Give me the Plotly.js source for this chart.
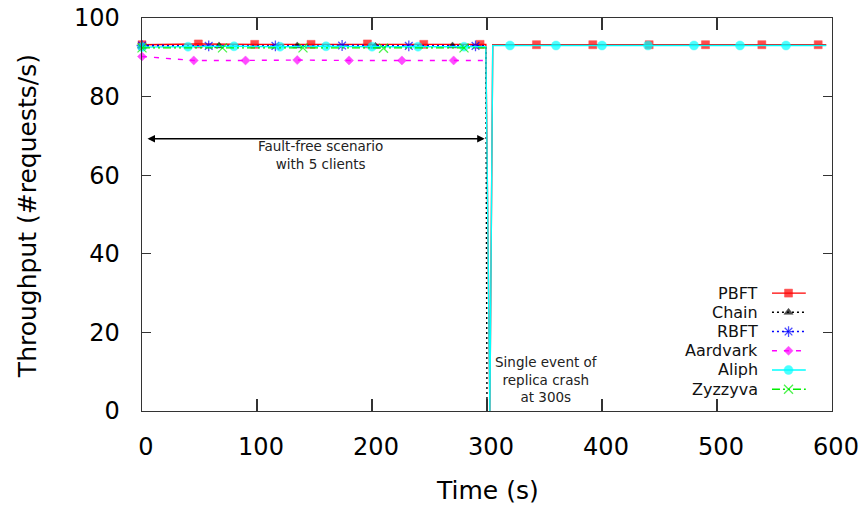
<!DOCTYPE html>
<html>
<head>
<meta charset="utf-8">
<script src="https://cdn.plot.ly/plotly-3.0.1.min.js"></script>
<style>html,body{margin:0;padding:0;background:#fff;}#chart{width:861px;height:505px;}</style>
</head>
<body>
<div id="chart"></div>
<script>
// ---- data ----
const seriesNames = ["PBFT", "Chain", "RBFT", "Aardvark", "Aliph", "Zyzzyva"];

const pbftT = [0, 49, 98, 147, 196, 245, 294, 299, 302.5, 305, 343, 392, 441, 490, 539, 588, 595];
const pbftV = [93.2, 93.4, 93.3, 93.3, 93.4, 93.3, 93.3, 93.3, 0, 93.2, 93.2, 93.2, 93.2, 93.2, 93.2, 93.2, 93.2];
const pbftMarks = [0, 1, 2, 3, 4, 5, 6, 10, 11, 12, 13, 14, 15];

const chainT = [0, 67, 135, 203, 270, 299, 300];
const chainV = [92.9, 92.9, 92.9, 92.8, 92.9, 92.9, 0];
const chainMarks = [0, 1, 2, 3, 4];

const rbftT = [0, 58, 116, 174, 232, 290, 299];
const rbftV = [93.0, 92.9, 92.9, 93.0, 92.9, 92.9, 92.9];
const rbftMarks = [0, 1, 2, 3, 4, 5];

const aardvarkT = [0, 45, 90, 135, 180, 226, 271, 298];
const aardvarkV = [90.2, 89.2, 89.2, 89.3, 89.2, 89.2, 89.2, 89.2];
const aardvarkMarks = [0, 1, 2, 3, 4, 5, 6];

const aliphT = [0, 40, 80, 120, 160, 200, 240, 280, 299, 302.5, 305, 320, 360, 400, 440, 480, 520, 560, 595];
const aliphV = [92.6, 92.7, 92.8, 92.7, 92.8, 92.7, 92.7, 92.7, 92.7, 0, 93.0, 93.0, 93.0, 93.0, 93.0, 93.0, 93.0, 93.0, 93.0];
const aliphMarks = [0, 1, 2, 3, 4, 5, 6, 7, 11, 12, 13, 14, 15, 16, 17];

const zyzzyvaT = [0, 70, 140, 210, 280, 299];
const zyzzyvaV = [92.4, 92.4, 92.4, 92.3, 92.4, 92.4];
const zyzzyvaMarks = [0, 1, 2, 3, 4];

const xTicks = [0, 100, 200, 300, 400, 500, 600];
const yTicks = [0, 20, 40, 60, 80, 100];

// ---- styles ----
const styles = [
  {color: "#ff0000", dash: "solid", symbol: "square", size: 8, lw: 0.5},
  {color: "#000000", dash: "2px,3px", symbol: "triangle-up", size: 8, lw: 0.5},
  {color: "#0000ff", dash: "2px,3px", symbol: "asterisk-open", size: 9, lw: 1.3},
  {color: "#ff00ff", dash: "5px,7px", symbol: "diamond", size: 7, lw: 0.5},
  {color: "#00ffff", dash: "solid", symbol: "circle", size: 9, lw: 0.5},
  {color: "#00ee00", dash: "8px,3px,2px,3px,2px,3px", symbol: "x-thin-open", size: 9, lw: 1.3}
];
const seriesData = [
  [pbftT, pbftV, pbftMarks],
  [chainT, chainV, chainMarks],
  [rbftT, rbftV, rbftMarks],
  [aardvarkT, aardvarkV, aardvarkMarks],
  [aliphT, aliphV, aliphMarks],
  [zyzzyvaT, zyzzyvaV, zyzzyvaMarks]
];

const traces = [];
seriesData.forEach((d, i) => {
  const s = styles[i];
  const sizes = d[0].map((_, k) => d[2].includes(k) ? s.size : 0);
  traces.push({
    x: d[0], y: d[1], type: "scatter", mode: "lines+markers", name: seriesNames[i],
    showlegend: false, cliponaxis: false,
    line: {color: s.color, width: 1.4, dash: s.dash},
    marker: {color: s.color, symbol: s.symbol, size: sizes, line: {color: s.color, width: s.lw}}
  });
});

// custom gnuplot-style legend (text left of sample)
const legX0 = 0.913, legXm = 0.937, legX1 = 0.962, legTextX = 0.896;
const legY0 = 0.300, legDy = 0.0489;
const annotations = [];
seriesNames.forEach((n, i) => {
  const s = styles[i];
  const yy = legY0 - i * legDy;
  traces.push({
    x: [legX0, legXm, legX1], y: [yy, yy, yy], xaxis: "x2", yaxis: "y2",
    type: "scatter", mode: "lines+markers", showlegend: false, cliponaxis: false, hoverinfo: "skip",
    line: {color: s.color, width: 1.4, dash: s.dash},
    marker: {color: s.color, symbol: s.symbol, size: [0, s.size, 0], line: {color: s.color, width: s.lw}}
  });
  annotations.push({
    xref: "paper", yref: "paper", x: legTextX, y: yy, xanchor: "right", yanchor: "middle",
    text: n, showarrow: false, font: {family: "DejaVu Sans", size: 16, color: "#111"}
  });
});

annotations.push(
  {xref: "x", yref: "y", x: 298, y: 69.3, ax: 0, ay: 69.3, axref: "x", ayref: "y",
   text: " ", showarrow: true, arrowside: "end+start", arrowhead: 2, arrowsize: 1, arrowwidth: 1.5,
   arrowcolor: "#000", standoff: 0, startstandoff: 0},
  {xref: "x", yref: "y", x: 155, y: 69.3, yshift: -16, xanchor: "center", yanchor: "middle",
   text: "Fault-free scenario<br>with 5 clients", showarrow: false,
   font: {family: "DejaVu Sans", size: 13.5, color: "#222"}},
  {xref: "x", yref: "paper", x: 352, y: 0, yshift: 4, xanchor: "center", yanchor: "bottom",
   text: "Single event of<br>replica crash<br>at 300s", showarrow: false,
   font: {family: "DejaVu Sans", size: 13.5, color: "#222"}},
  {xref: "paper", yref: "paper", x: 0.5, y: -0.203, xanchor: "center", yanchor: "middle",
   text: "Time (s)", showarrow: false, font: {family: "DejaVu Sans", size: 25, color: "#000"}},
  {xref: "paper", yref: "paper", x: -0.166, y: 0.497, xanchor: "center", yanchor: "middle", textangle: -90,
   text: "Throughput (#requests/s)", showarrow: false, font: {family: "DejaVu Sans", size: 25, color: "#000"}}
);

const layout = {
  width: 861, height: 505,
  margin: {l: 142, r: 29, t: 18, b: 94, pad: 0},
  paper_bgcolor: "#fff", plot_bgcolor: "#fff",
  font: {family: "DejaVu Sans", size: 24, color: "#000"},
  showlegend: false,
  xaxis: {range: [0, 600], tickvals: xTicks, ticktext: xTicks.map(String), ticks: "inside", ticklen: 12,
          tickwidth: 1.3, tickcolor: "#333", showline: true, linecolor: "#333", linewidth: 1.3,
          mirror: "ticks", showgrid: false, zeroline: false, ticklabelstandoff: 14, ticklabelshift: 4,
          tickfont: {family: "DejaVu Sans", size: 24, color: "#000"}},
  yaxis: {range: [0, 100], tickvals: yTicks, ticktext: yTicks.map(String), ticks: "inside", ticklen: 9,
          tickwidth: 1.3, tickcolor: "#333", showline: true, linecolor: "#333", linewidth: 1.3,
          mirror: "ticks", showgrid: false, zeroline: false, ticklabelstandoff: 16,
          tickfont: {family: "DejaVu Sans", size: 24, color: "#000"}},
  xaxis2: {overlaying: "x", range: [0, 1], visible: false, fixedrange: true},
  yaxis2: {overlaying: "y", range: [0, 1], visible: false, fixedrange: true},
  annotations: annotations
};

Plotly.newPlot("chart", traces, layout, {displayModeBar: false, staticPlot: true});
</script>
</body>
</html>
